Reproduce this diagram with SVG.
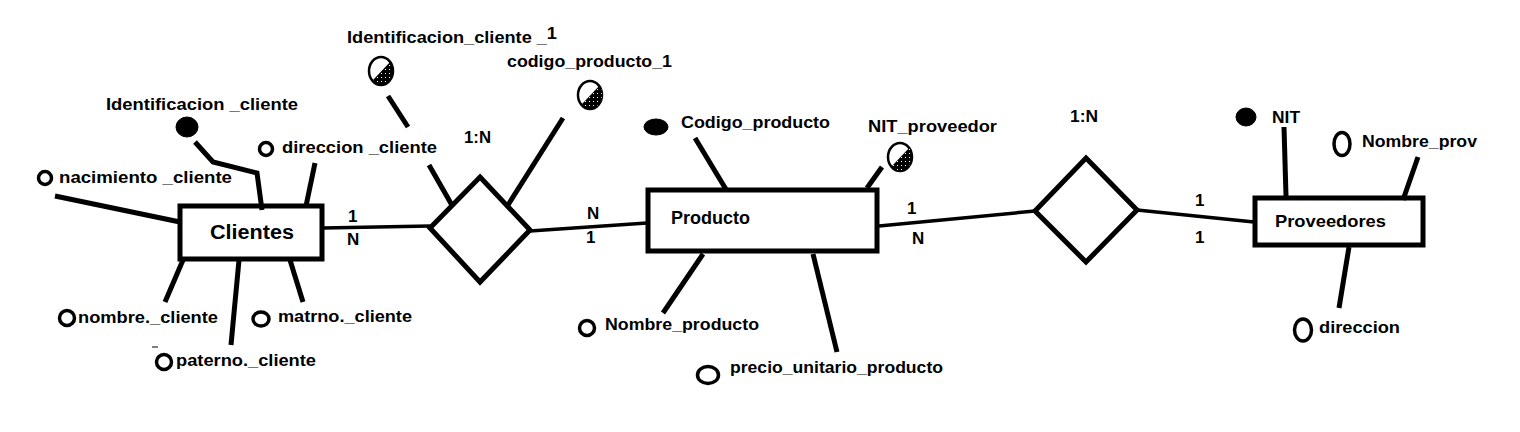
<svg xmlns="http://www.w3.org/2000/svg" width="1520" height="432" viewBox="0 0 1520 432">
<style>
text{font-family:"Liberation Sans",Arial,sans-serif;font-weight:bold;fill:#000;font-size:17px}
.ent{fill:#fff;stroke:#000;stroke-width:5}
.rel{fill:#fff;stroke:#000;stroke-width:5;stroke-linejoin:miter}
.att{stroke:#000;stroke-width:5;fill:none;stroke-linecap:butt}
.con{stroke:#000;stroke-width:3.5;fill:none}
.hol{fill:#fff;stroke:#000;stroke-width:3.5}
.key{fill:#000;stroke:#000;stroke-width:1}
.hk{fill:#fff;stroke:#000;stroke-width:2.5}
.big{font-size:20px}
.mid{font-size:18px}
</style>
<defs>
<pattern id="hatch" width="4" height="4" patternUnits="userSpaceOnUse">
<rect width="4" height="4" fill="#000"/>
<rect x="1" y="1" width="1" height="1" fill="#fff"/>
</pattern>
</defs>
<rect width="1520" height="432" fill="#fff"/>

<g id="connectors">
<line class="con" x1="323" y1="228" x2="430" y2="226"/>
<line class="con" x1="530" y1="231" x2="647" y2="223"/>
<line class="con" x1="879" y1="226" x2="1035" y2="211"/>
<line class="con" x1="1137" y1="210" x2="1254" y2="222"/>
<text x="348" y="222">1</text>
<text x="347" y="245">N</text>
<text x="587" y="219">N</text>
<text x="586" y="243">1</text>
<text x="907" y="214">1</text>
<text x="912" y="244">N</text>
<text x="1195" y="206">1</text>
<text x="1195" y="243">1</text>
</g>

<g id="clientes">
<rect class="ent" x="180" y="206" width="142" height="53"/>
<text class="big" x="210" y="239" textLength="84" lengthAdjust="spacingAndGlyphs">Clientes</text>
</g>

<g id="attr-identificacion-cliente">
<polyline class="att" points="195,142 213,162 257,173 262,210" stroke-width="4"/>
<ellipse class="key" cx="187" cy="127" rx="11" ry="10"/>
<text x="106" y="110" textLength="192" lengthAdjust="spacingAndGlyphs">Identificacion _cliente</text>
</g>

<g id="attr-nacimiento-cliente">
<line class="att" x1="55" y1="196" x2="180" y2="222"/>
<circle class="hol" cx="45" cy="178" r="6.5"/>
<text x="59" y="183" textLength="173" lengthAdjust="spacingAndGlyphs">nacimiento _cliente</text>
</g>

<g id="attr-direccion-cliente">
<line class="att" x1="315" y1="163" x2="306" y2="206"/>
<circle class="hol" cx="266" cy="149" r="6.5"/>
<text x="282" y="153" textLength="155" lengthAdjust="spacingAndGlyphs">direccion _cliente</text>
</g>

<g id="attr-nombre-cliente">
<line class="att" x1="183" y1="260" x2="165" y2="302"/>
<circle class="hol" cx="67" cy="318" r="7.5"/>
<text x="78" y="323" textLength="140" lengthAdjust="spacingAndGlyphs">nombre._cliente</text>
</g>

<g id="attr-paterno-cliente">
<line class="att" x1="239" y1="260" x2="231" y2="345"/>
<line x1="152" y1="347" x2="158" y2="347" stroke="#000" stroke-width="1"/>
<circle class="hol" cx="164" cy="362" r="7.5"/>
<text x="176" y="366" textLength="140" lengthAdjust="spacingAndGlyphs">paterno._cliente</text>
</g>

<g id="attr-matrno-cliente">
<line class="att" x1="290" y1="260" x2="303" y2="302"/>
<ellipse class="hol" cx="261" cy="319" rx="8" ry="7"/>
<text x="278" y="322" textLength="134" lengthAdjust="spacingAndGlyphs">matrno._cliente</text>
</g>

<g id="rel-clientes-producto">
<polygon class="rel" points="480,177 530,230 480,282 430,228"/>
<text x="464" y="143" textLength="27" lengthAdjust="spacingAndGlyphs">1:N</text>
</g>

<g id="attr-identificacion-cliente-1">
<line class="att" x1="388" y1="96" x2="408" y2="127"/>
<line class="att" x1="429" y1="165" x2="453" y2="207"/>
<ellipse class="hk" cx="381" cy="71" rx="12" ry="14"/>
<path d="M391,61 Q396,75 388,82 Q380,88 373,80 Z" fill="url(#hatch)"/>
<text x="347" y="43" textLength="210" lengthAdjust="spacingAndGlyphs">Identificacion_cliente _<tspan dy="-4">1</tspan></text>
</g>

<g id="attr-codigo-producto-1">
<line class="att" x1="563" y1="118" x2="508" y2="205"/>
<ellipse class="hk" cx="590" cy="95" rx="12" ry="14"/>
<path d="M600,85 Q605,99 597,106 Q589,112 582,104 Z" fill="url(#hatch)"/>
<text x="507" y="67" textLength="165" lengthAdjust="spacingAndGlyphs">codigo_producto_1</text>
</g>

<g id="producto">
<rect class="ent" x="648" y="190" width="229" height="61"/>
<text class="mid" x="671" y="224" textLength="79" lengthAdjust="spacingAndGlyphs">Producto</text>
</g>

<g id="attr-codigo-producto">
<line class="att" x1="695" y1="138" x2="727" y2="191"/>
<ellipse class="key" cx="656" cy="127" rx="12" ry="8"/>
<text x="681" y="128" textLength="149" lengthAdjust="spacingAndGlyphs">Codigo_producto</text>
</g>

<g id="attr-nit-proveedor">
<line class="att" x1="882" y1="167" x2="867" y2="188"/>
<ellipse class="hk" cx="900" cy="157" rx="12" ry="14"/>
<path d="M910,147 Q915,161 907,168 Q899,174 892,166 Z" fill="url(#hatch)"/>
<text x="868" y="132" textLength="129" lengthAdjust="spacingAndGlyphs">NIT_proveedor</text>
</g>

<g id="attr-nombre-producto">
<line class="att" x1="703" y1="254" x2="663" y2="313"/>
<circle class="hol" cx="587" cy="328" r="7.5"/>
<text x="605" y="330" textLength="154" lengthAdjust="spacingAndGlyphs">Nombre_producto</text>
</g>

<g id="attr-precio-unitario-producto">
<line class="att" x1="813" y1="254" x2="837" y2="352"/>
<ellipse class="hol" cx="708" cy="375" rx="10.5" ry="8.5"/>
<text x="730" y="373" textLength="213" lengthAdjust="spacingAndGlyphs">precio_unitario_producto</text>
</g>

<g id="rel-producto-proveedores">
<polygon class="rel" points="1086,158 1137,210 1086,262 1035,211"/>
<text x="1070" y="122" textLength="28" lengthAdjust="spacingAndGlyphs">1:N</text>
</g>

<g id="proveedores">
<rect class="ent" x="1255" y="198" width="168" height="47"/>
<text x="1275" y="227" textLength="111" lengthAdjust="spacingAndGlyphs">Proveedores</text>
</g>

<g id="attr-nit">
<line class="att" x1="1284" y1="127" x2="1286" y2="196"/>
<ellipse class="key" cx="1246" cy="117" rx="10" ry="9"/>
<text x="1272" y="123" textLength="28" lengthAdjust="spacingAndGlyphs">NIT</text>
</g>

<g id="attr-nombre-prov">
<line class="att" x1="1418" y1="157" x2="1403" y2="200"/>
<ellipse class="hol" cx="1342" cy="144" rx="8" ry="11.5"/>
<text x="1362" y="147" textLength="115" lengthAdjust="spacingAndGlyphs">Nombre_prov</text>
</g>

<g id="attr-direccion">
<line class="att" x1="1349" y1="247" x2="1339" y2="308"/>
<ellipse class="hol" cx="1303" cy="330" rx="8.5" ry="11"/>
<text x="1319" y="333" textLength="81" lengthAdjust="spacingAndGlyphs">direccion</text>
</g>
</svg>
